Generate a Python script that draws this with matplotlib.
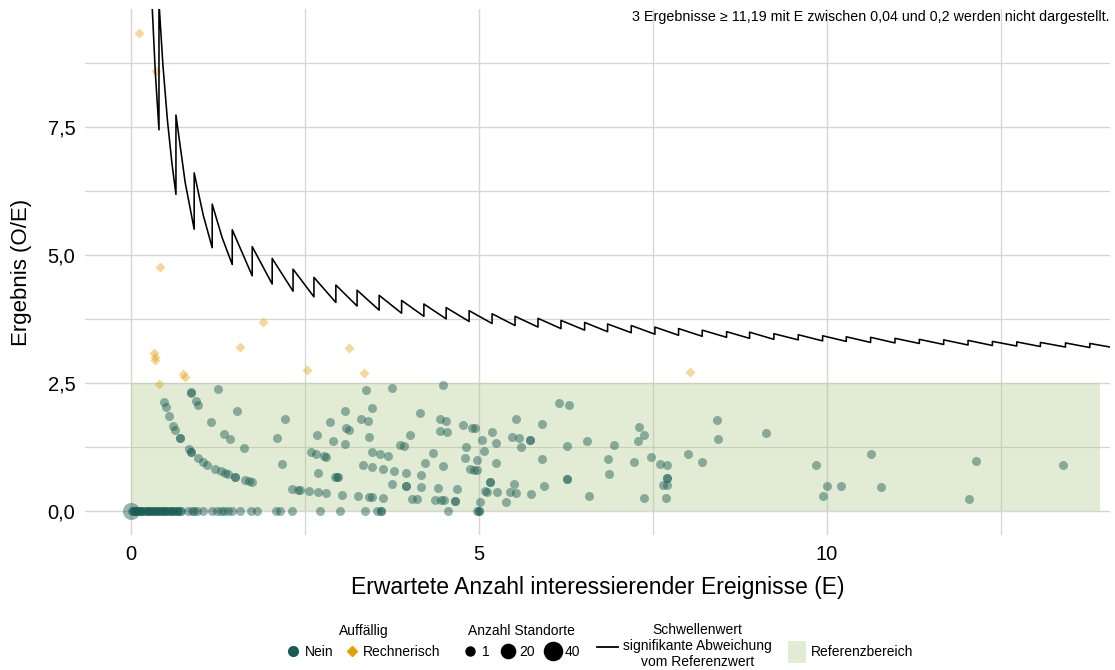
import matplotlib
matplotlib.use('Agg')
import matplotlib.pyplot as plt
from matplotlib.lines import Line2D
from matplotlib.patches import Patch, Rectangle

plt.rcParams['font.family'] = ['Liberation Sans', 'DejaVu Sans']

# --- Daten ---
# Standorte ohne Auffaelligkeit: E (x), O/E (y)
nein_x = [
    1.25, 0.86, 0.87, 0.93, 0.97, 0.48, 0.50, 0.54, 1.53, 1.15, 2.21, 0.61, 0.64, 0.70, 0.70,
    1.34, 1.42, 2.10, 1.63, 0.83, 0.86, 0.86, 0.96, 1.04, 1.10, 1.21, 1.30, 1.35, 1.39, 1.49,
    1.49, 1.64, 1.70, 1.74, 2.17, 2.32, 2.40, 2.43, 2.56, 2.69, 2.80, 3.04, 2.68, 2.86, 3.07,
    3.09, 3.14, 2.91, 3.07, 2.59, 2.66, 2.77, 2.81, 2.69, 2.93, 2.96, 2.98,
    3.38, 3.75, 4.48, 3.47, 3.30, 3.40, 4.16, 4.44, 4.53, 3.42, 4.01, 4.44, 4.54, 4.77, 4.90,
    4.95, 5.19, 5.53, 5.91, 6.15, 6.30, 5.05, 5.24, 5.48, 5.57, 5.74, 5.74, 5.60, 6.27, 6.55,
    6.94, 3.87, 3.92, 3.46, 3.58, 3.70, 4.34, 4.81, 5.07, 4.80, 4.98, 5.25, 5.91, 6.85, 6.87,
    4.22, 4.49, 3.34, 3.47, 3.62, 3.78, 3.95, 4.17, 4.87, 4.93, 4.97, 5.16, 5.16, 5.51, 5.94,
    6.27, 6.27, 3.75, 3.95, 3.95, 4.17, 4.42, 4.68, 3.26, 3.42, 3.47, 3.62, 4.04, 4.11, 4.37,
    4.45, 4.50, 4.66, 4.66, 5.02, 5.09, 5.11, 5.26, 5.45, 5.53, 5.75, 5.39, 6.58,
    7.30, 7.37, 7.29, 7.23, 7.48, 7.60, 7.70, 7.71, 7.71, 7.71, 7.65, 7.37, 7.69, 8.42, 8.44,
    8.01, 8.21, 9.13, 9.84, 10.00, 9.94, 10.20, 10.63, 10.78, 12.14, 12.04, 13.39,
]
nein_y = [
    2.39, 2.33, 2.30, 2.15, 2.07, 2.12, 2.03, 1.86, 1.95, 1.73, 1.80, 1.65, 1.58, 1.42, 1.42,
    1.50, 1.41, 1.42, 1.23, 1.21, 1.16, 1.16, 1.04, 0.96, 0.90, 0.82, 0.77, 0.74, 0.72, 0.66,
    0.66, 0.60, 0.59, 0.56, 0.91, 0.42, 0.41, 0.40, 0.38, 0.36, 0.35, 0.31, 1.48, 1.74, 1.95,
    1.62, 1.58, 1.37, 1.30, 1.15, 1.11, 1.08, 1.06, 0.74, 0.67, 0.67, 0.66,
    2.36, 2.40, 2.46, 2.01, 1.80, 1.76, 1.91, 1.79, 1.76, 1.45, 1.49, 1.56, 1.54, 1.67, 1.62,
    1.61, 1.54, 1.80, 1.69, 2.10, 2.06, 1.38, 1.33, 1.45, 1.43, 1.38, 1.38, 1.24, 1.26, 1.36,
    1.29, 1.28, 1.26, 1.15, 1.11, 1.07, 1.14, 1.24, 1.17, 1.04, 1.00, 0.94, 1.01, 1.02, 0.72,
    0.94, 0.88, 0.89, 0.86, 0.82, 0.78, 0.75, 0.70, 0.81, 0.80, 0.80, 0.57, 0.57, 0.53, 0.49,
    0.63, 0.63, 0.52, 0.49, 0.49, 0.47, 0.44, 0.42, 0.29, 0.28, 0.28, 0.26, 0.23, 0.23, 0.22,
    0.22, 0.22, 0.20, 0.20, 0.18, 0.38, 0.37, 0.37, 0.36, 0.35, 0.33, 0.17, 0.29,
    1.63, 1.48, 1.36, 0.96, 1.06, 0.91, 0.90, 0.64, 0.64, 0.51, 0.51, 0.26, 0.25, 1.77, 1.41,
    1.11, 0.96, 1.52, 0.90, 0.49, 0.29, 0.48, 1.12, 0.46, 0.98, 0.23, 0.89,
]

# Standorte mit O = 0 (Ergebnis 0,0)
null_x = [
    0.01, 0.03, 0.04, 0.06, 0.08, 0.09, 0.11, 0.13, 0.14, 0.16, 0.18, 0.21, 0.23, 0.24, 0.26,
    0.29, 0.31, 0.32, 0.34, 0.36, 0.38, 0.40, 0.42, 0.44, 0.46, 0.48, 0.50, 0.52, 0.55, 0.57,
    0.59, 0.61, 0.63, 0.66, 0.68, 0.70, 0.72,
    0.82, 0.88, 0.90, 0.95, 1.04, 1.16, 1.23, 1.29, 1.34, 1.40, 1.45, 1.57, 1.72, 1.81, 2.09,
    2.14, 2.31, 2.71, 3.01, 3.37, 3.54, 3.59, 3.59, 4.55, 4.97, 5.00, 5.00,
]

# Standort mit vielen Standorten bei (0, 0)
gross_x = [0.0]
gross_y = [0.0]
gross_n = [34]

# Rechnerisch auffaellig
rech_x = [0.12, 0.36, 0.42, 1.90, 1.57, 3.14, 2.53, 3.35, 8.04, 0.75, 0.77, 0.33, 0.34, 0.35, 0.41]
rech_y = [9.33, 8.58, 4.77, 3.69, 3.21, 3.18, 2.75, 2.70, 2.72, 2.68, 2.62, 3.09, 3.01, 2.94, 2.48]

# Schwellenwert (Ecken der Saegezahnlinie)
schwelle_x = [
    0.30, 0.35, 0.403, 0.403, 0.46, 0.525, 0.59, 0.647, 0.647, 0.78, 0.909, 0.909, 1.04, 1.168,
    1.168, 1.31, 1.456, 1.456, 1.743, 1.743, 2.03, 2.03, 2.33, 2.33, 2.63, 2.63, 2.945, 2.945,
    3.25, 3.25, 3.567, 3.567, 3.89, 3.89, 4.21, 4.21, 4.53, 4.53, 4.86, 4.86, 5.19, 5.19, 5.52,
    5.52, 5.85, 5.85, 6.18, 6.18, 6.52, 6.52, 6.85, 6.85, 7.19, 7.19, 7.53, 7.53, 7.87, 7.87,
    8.21, 8.21, 8.56, 8.56, 8.89, 8.89, 9.24, 9.24, 9.59, 9.59, 9.94, 9.94, 10.28, 10.28,
    10.63, 10.63, 10.98, 10.98, 11.33, 11.33, 11.68, 11.68, 12.03, 12.03, 12.38, 12.38, 12.73,
    12.73, 13.07, 13.07, 13.43, 13.43, 13.78, 13.78, 14.07,
]
schwelle_y = [
    10.0, 8.57, 7.44, 9.93, 8.70, 7.62, 6.78, 6.18, 7.73, 6.41, 5.50, 6.60, 5.77, 5.14,
    5.99, 5.34, 4.81, 5.49, 4.59, 5.16, 4.43, 4.93, 4.29, 4.72, 4.18, 4.56, 4.07, 4.41,
    4.00, 4.31, 3.92, 4.21, 3.86, 4.11, 3.80, 4.04, 3.75, 3.97, 3.70, 3.91, 3.66, 3.85, 3.62,
    3.80, 3.59, 3.76, 3.56, 3.72, 3.53, 3.68, 3.50, 3.65, 3.48, 3.62, 3.45, 3.59, 3.43, 3.56,
    3.41, 3.53, 3.39, 3.50, 3.37, 3.49, 3.35, 3.46, 3.34, 3.44, 3.32, 3.42, 3.31, 3.40,
    3.29, 3.39, 3.28, 3.37, 3.27, 3.35, 3.25, 3.34, 3.24, 3.33, 3.23, 3.31, 3.22,
    3.30, 3.21, 3.29, 3.20, 3.28, 3.19, 3.27, 3.20,
]

# Referenzbereich
ref_unten, ref_oben, ref_x_max = 0.0, 2.5, 13.92

teal = '#175c55'
orange = '#e69f00'


def groesse(n):
    # Punktflaeche je Anzahl Standorte
    return 42 + 3.3 * (n - 1)


fig = plt.figure(figsize=(11.15, 6.70), dpi=100)
ax = fig.add_axes([85 / 1115, 1 - 535 / 670, 1025 / 1115, 526 / 670])

ax.add_patch(Rectangle((0, ref_unten), ref_x_max, ref_oben - ref_unten,
                       facecolor='#aac780', alpha=0.34, lw=0, zorder=1))

ax.scatter(null_x, [0] * len(null_x), s=groesse(1), color=teal, alpha=0.45, lw=0, zorder=3)
ax.scatter(gross_x, gross_y, s=[groesse(n) for n in gross_n], color=teal, alpha=0.45, lw=0, zorder=3)
ax.scatter(nein_x, nein_y, s=groesse(1), color=teal, alpha=0.45, lw=0, zorder=3)
ax.scatter(rech_x, rech_y, s=26, marker='D', color=orange, alpha=0.4, lw=0, zorder=3)

ax.plot(schwelle_x, schwelle_y, color='black', lw=1.15, zorder=4)

ax.set_xlim(-0.66, 14.07)
ax.set_ylim(-0.47, 9.80)

ax.set_xticks([0, 5, 10])
ax.set_xticklabels(['0', '5', '10'])
ax.set_xticks([2.5, 7.5, 12.5], minor=True)
ax.set_yticks([0, 2.5, 5, 7.5])
ax.set_yticklabels(['0,0', '2,5', '5,0', '7,5'])
ax.set_yticks([1.25, 3.75, 6.25, 8.75], minor=True)
ax.tick_params(which='both', length=0, labelsize=14.5, pad=7, labelcolor='black')

ax.set_axisbelow(True)
ax.grid(which='major', color='#d6d6d6', lw=1.0)
ax.grid(which='minor', color='#d6d6d6', lw=0.9)
for s in ax.spines.values():
    s.set_visible(False)

ax.set_xlabel('Erwartete Anzahl interessierender Ereignisse (E)', fontsize=16.5)
ax.xaxis.set_label_coords(0.5, -0.10)
ax.xaxis.label.set_va('center')
ax.set_ylabel('Ergebnis (O/E)', fontsize=16)
ax.yaxis.set_label_coords(-0.0615, 0.5)
ax.yaxis.label.set_va('center')

ax.text(1.0, 0.998, '3 Ergebnisse ≥ 11,19 mit E zwischen 0,04 und 0,2 werden nicht dargestellt.',
        transform=ax.transAxes, ha='right', va='top', fontsize=10.3)

# Legenden unten
opts = dict(loc='center', frameon=False, fontsize=10, title_fontsize=10,
            borderpad=0, borderaxespad=0, handletextpad=0.35, columnspacing=0.8)

h1 = [Line2D([], [], marker='o', ls='', color=teal, markersize=7),
      Line2D([], [], marker='D', ls='', color=orange, markersize=5.5)]
fig.legend(h1, ['Nein', 'Rechnerisch'], title='Auffällig', ncol=2, handlelength=1.0,
           bbox_to_anchor=(0.326, 0.043), **opts)

h2 = [Line2D([], [], marker='o', ls='', color='black', markersize=groesse(n) ** 0.5)
      for n in [1, 20, 40]]
fig.legend(h2, ['1', '20', '40'], title='Anzahl Standorte', ncol=3, handlelength=1.0,
           bbox_to_anchor=(0.468, 0.043), **opts)

h3 = [Line2D([], [], color='black', lw=1.3)]
leg3 = fig.legend(h3, ['Schwellenwert\nsignifikante Abweichung\nvom Referenzwert'], handlelength=1.5,
                  bbox_to_anchor=(0.614, 0.036), **opts)
for t in leg3.get_texts():
    t.set_multialignment('center')

h4 = [Patch(facecolor='#e2ecd4', lw=0)]
fig.legend(h4, ['Referenzbereich'], handlelength=1.3, handleheight=2.1,
           bbox_to_anchor=(0.763, 0.027), **opts)

fig.savefig('out.png', dpi=100)
